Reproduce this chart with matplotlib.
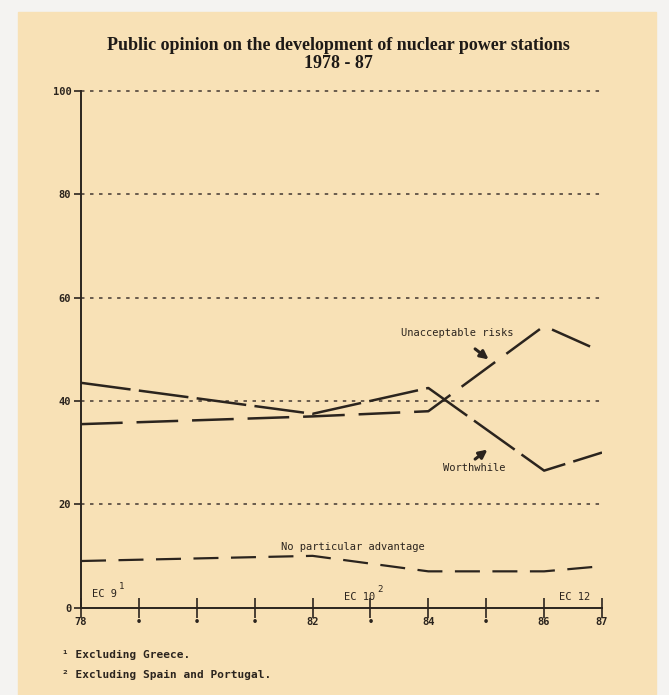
import matplotlib.pyplot as plt
from matplotlib.patches import Rectangle

plt.rcParams['lines.scale_dashes'] = False

# data (percent)
years_w = [78, 82, 84, 86, 87]
worthwhile = [43.5, 37.5, 42.5, 26.5, 30]

years_u = [78, 82, 84, 86, 87]
unacceptable = [35.5, 37, 38, 54.5, 49.5]

years_n = [78, 82, 84, 86, 87]
no_advantage = [9, 10, 7, 7, 8]

xticks = [78, 79, 80, 81, 82, 83, 84, 85, 86, 87]
xlabels = ['78', '•', '•', '•', '82', '•', '84', '•', '86', '87']
yticks = [0, 20, 40, 60, 80, 100]

ink = '#2b241e'
bg = '#f8e1b6'
mono = 'DejaVu Sans Mono'

fig = plt.figure(figsize=(6.69, 6.95), dpi=100)
fig.patch.set_facecolor('#f4f3f1')
fig.patches.append(Rectangle((18 / 669, 0), 638 / 669, 1 - 12 / 695,
                             transform=fig.transFigure, color=bg, zorder=-10))

ax = fig.add_axes([81 / 669, 1 - 607.5 / 695, 521 / 669, 516.5 / 695])
ax.set_facecolor('none')
ax.set_zorder(5)

# grid
for y in yticks[1:]:
    ax.plot([78, 87], [y, y], color='#5e5045', lw=1.3, ls=(0, (2.5, 4)),
            zorder=1, clip_on=False)

ax.plot(years_w, worthwhile, color=ink, lw=1.8, ls=(0, (36, 6)), zorder=3)
ax.plot(years_u, unacceptable, color=ink, lw=1.8, ls=(0, (30, 10)), zorder=3)
ax.plot(years_n, no_advantage, color=ink, lw=1.6, ls=(0, (18, 9)), zorder=3)

ax.set_xlim(78, 87)
ax.set_ylim(0, 100)
for s in ['top', 'right']:
    ax.spines[s].set_visible(False)
for s in ['left', 'bottom']:
    ax.spines[s].set_color(ink)
    ax.spines[s].set_linewidth(1.4)

ax.set_xticks(xticks)
ax.set_xticklabels(xlabels)
ax.set_yticks(yticks)
ax.tick_params(axis='x', direction='inout', length=14, width=1.2, color=ink,
               labelsize=7.5, pad=0)
ax.tick_params(axis='y', direction='out', length=5, width=1.2, color=ink,
               labelsize=7.5, pad=2)
for lab in ax.get_xticklabels() + ax.get_yticklabels():
    lab.set_fontfamily(mono)
    lab.set_fontweight('bold')
    lab.set_color(ink)

# labels on the lines
ax.text(84.5, 53.1, 'Unacceptable risks', family=mono, fontsize=7.5,
        color=ink, ha='center', va='center')
ax.annotate('', xy=(85.08, 47.7), xytext=(84.77, 50.4),
            arrowprops=dict(arrowstyle='-|>', color=ink, lw=2.2,
                            mutation_scale=12))
ax.text(84.8, 27.0, 'Worthwhile', family=mono, fontsize=7.5,
        color=ink, ha='center', va='center')
ax.annotate('', xy=(85.06, 30.9), xytext=(84.77, 28.4),
            arrowprops=dict(arrowstyle='-|>', color=ink, lw=2.2,
                            mutation_scale=12))
ax.text(82.7, 11.7, 'No particular advantage', family=mono, fontsize=7.5,
        color=ink, ha='center', va='center')

ax.text(78.19, 2.6, 'EC 9', family=mono, fontsize=7.5, color=ink, va='center')
ax.text(78.66, 4.0, '1', family=mono, fontsize=6.5, color=ink, va='center')
ax.text(82.55, 2.0, 'EC 10', family=mono, fontsize=7.5, color=ink, va='center')
ax.text(83.12, 3.4, '2', family=mono, fontsize=6.5, color=ink, va='center')
ax.text(86.25, 2.0, 'EC 12', family=mono, fontsize=7.5, color=ink, va='center')

fig.text(338 / 669, 1 - 45 / 695,
         'Public opinion on the development of nuclear power stations',
         family='Liberation Serif', weight='bold', fontsize=13, color='#1e1a17',
         ha='center', va='center')
fig.text(338 / 669, 1 - 63 / 695, '1978 - 87', family='Liberation Serif',
         weight='bold', fontsize=13, color='#1e1a17', ha='center', va='center')

fig.text(62 / 669, 1 - 655 / 695, '¹ Excluding Greece.', family=mono,
         weight='bold', fontsize=8, color=ink, va='center')
fig.text(62 / 669, 1 - 675 / 695, '² Excluding Spain and Portugal.', family=mono,
         weight='bold', fontsize=8, color=ink, va='center')

fig.savefig('out.png', dpi=100, facecolor=fig.get_facecolor())
